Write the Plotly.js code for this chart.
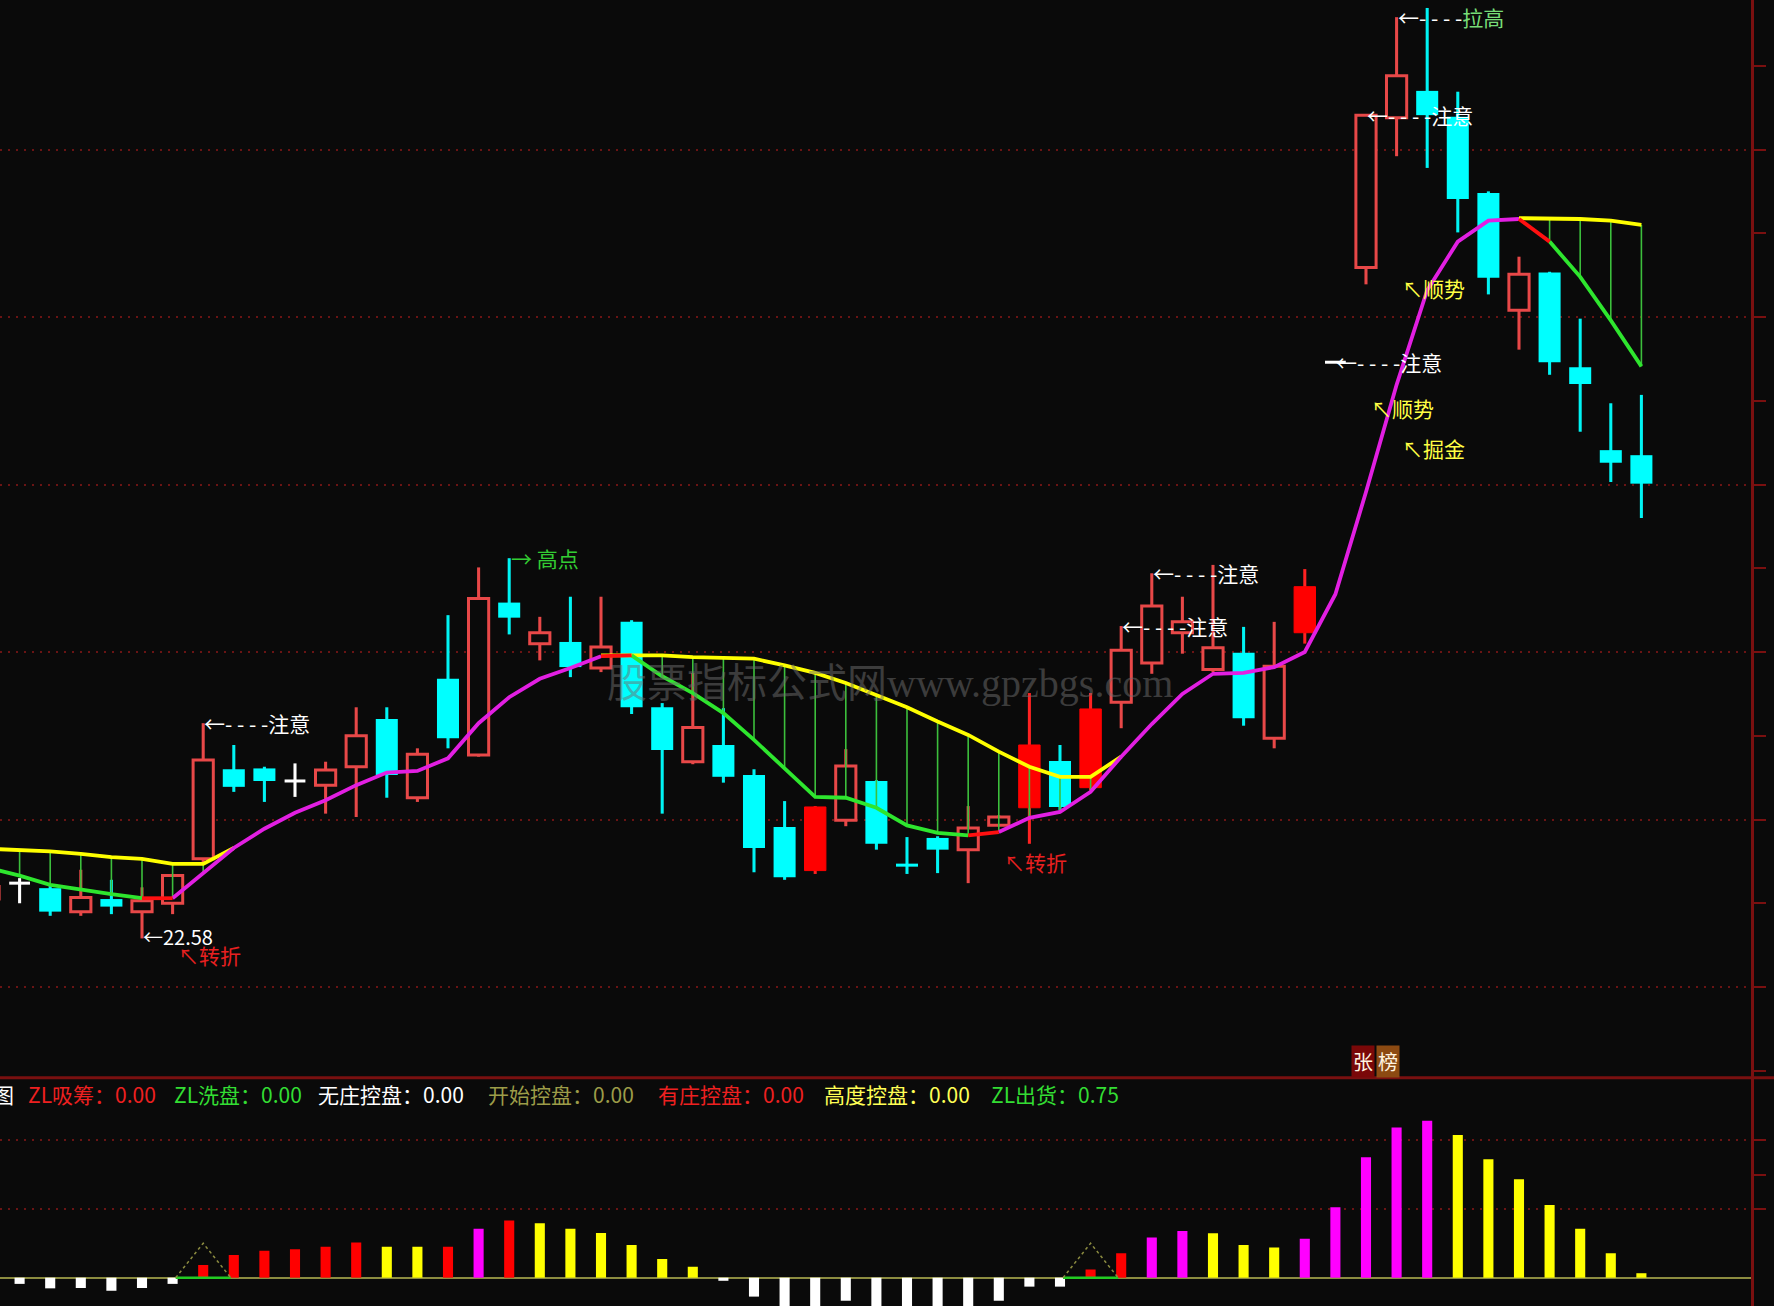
<!DOCTYPE html>
<html>
<head>
<meta charset="utf-8">
<script src="https://cdn.plot.ly/plotly-3.0.1.min.js"></script>
<style>
html,body{margin:0;padding:0;background:#0a0a0a;overflow:hidden;}
#chart{width:1774px;height:1306px;}
</style>
</head>
<body>
<div id="chart"></div>
<script>
// ---------------- DATA ----------------
const days = [-1,0,1,2,3,4,5,6,7,8,9,10,11,12,13,14,15,16,17,18,19,20,21,22,23,24,25,26,27,28,29,30,31,32,33,34,35,36,37,38,39,40,41,42,43,44,45,46,47,48,49,50,51,52,53];

const open = [23.05, 23.24,23.18,22.90,23.05,22.90,23.00,23.53,24.60,24.61,24.46, 24.41,24.63,25.20,24.26,25.68,24.77,26.59,26.10,26.12,25.81, 26.36,25.34,24.69,24.89,24.53,23.91,23.39,23.99,24.46,23.47, 23.78,23.64,23.93,24.14,24.70,24.38,25.40,25.87,26.23,25.79, 25.99,24.97,26.23,29.46,30.59,32.38,32.70,32.39,31.48,30.08, 30.53,29.40,28.41,28.35];
const high = [23.30, 23.30,23.21,23.40,23.28,23.19,23.35,25.15,24.89,24.63,24.67, 24.69,25.34,25.34,24.85,26.44,27.01,27.12,26.42,26.66,26.66, 26.38,25.39,25.75,25.33,24.60,24.22,24.16,24.84,24.47,23.79, 23.80,24.16,24.05,25.51,24.89,25.51,26.31,26.94,26.66,27.04, 26.30,26.36,26.99,29.46,32.41,33.58,33.69,32.69,31.50,30.72, 30.54,29.98,28.97,29.07];
const low = [22.95, 23.00,22.85,22.85,22.87,22.58,22.87,23.49,24.33,24.21,24.27, 24.07,24.03,24.26,24.21,24.85,24.75,26.21,25.90,25.70,25.76, 25.26,24.07,24.66,24.44,23.37,23.28,23.35,23.92,23.64,23.35, 23.36,23.24,23.92,23.71,24.11,24.35,25.09,25.74,25.98,25.76, 25.12,24.85,26.10,29.46,30.39,31.92,31.78,31.01,30.27,29.61, 29.31,28.63,28.03,27.60];
const close = [23.20, 23.24,22.90,23.07,22.96,23.03,23.33,24.71,24.39,24.46,24.46, 24.59,25.00,24.53,24.78,24.97,26.64,26.41,26.23,25.82,26.06, 25.34,24.83,25.10,24.51,23.66,23.31,24.15,24.64,23.71,23.44, 23.64,23.90,24.03,24.89,24.15,25.32,26.02,26.55,26.36,26.05, 25.21,25.83,26.78,29.46,32.41,32.88,32.41,31.41,30.47,30.51, 29.46,29.20,28.26,28.01];
const solidUpDays = [26, 33, 35, 42];

const upperBand = [23.65, 23.64,23.62,23.59,23.55,23.53,23.47,23.47,23.66,null,null, null,null,null,null,null,null,null,null,null,25.96, 25.96,25.96,25.94,25.93,25.92,25.84,25.75,25.63,25.49,25.34, 25.17,25.01,24.81,24.63,24.51,24.51,24.75,null,null,null, null,null,null,null,null,null,null,null,null,31.18, 31.18,31.17,31.15,31.10];
const supportLine = [23.42, 23.33,23.22,23.16,23.11,23.06,23.06,23.36,23.66,23.89,24.08, 24.23,24.41,24.56,24.58,24.73,25.15,25.46,25.68,25.81,25.95, 25.96,25.71,25.51,25.27,24.95,24.61,24.27,24.26,24.14,23.93, 23.84,23.81,23.85,24.02,24.09,24.33,24.75,25.14,25.50,25.74, 25.75,25.82,26.00,26.69,27.91,29.19,30.32,30.90,31.15,31.17, 30.90,30.48,29.96,29.41];
const trendState = ['D', 'D','D','D','D','D','U','U','U','U','U', 'U','U','U','U','U','U','U','U','U','U', 'D','D','D','D','D','D','D','D','D','D', 'D','D','U','U','U','U','U','U','U','U', 'U','U','U','U','U','U','U','U','U','U', 'D','D','D','D'];

const zlValue = [null, -1.8,-3.1,-3.0,-3.8,-3.0,-1.8,3.7,6.6,7.8,8.3, 9.0,10.2,9.0,9.0,9.0,14.2,16.6,15.8,14.2,13.0, 9.5,5.4,3.2,-0.9,-5.5,-9.0,-10.0,-6.7,-9.5,-10.0, -9.0,-9.0,-6.7,-2.6,-2.6,2.4,7.1,11.7,13.6,12.9, 9.5,8.8,11.3,20.5,35.0,43.7,45.6,41.5,34.4,28.6, 21.1,14.2,7.1,1.3];
const zlState = [null, 'w','w','w','w','w','w','r','r','r','r', 'r','r','y','y','r','m','r','y','y','y', 'y','y','y','w','w','w','w','w','w','w', 'w','w','w','w','w','r','r','m','m','y', 'y','y','m','m','m','m','m','y','y','y', 'y','y','y','y'];
const signalDays = [6, 35];
const signalHeight = 10;

const noteDays = [6, 36, 37, 43, 44];
const turnDays = [5, 32];
const turnPrices = [22.38, 23.49];
const trendLabelText = ['↖顺势', '↖顺势', '↖掘金'];
const trendLabelDays = [45, 44, 45];
const trendLabelPrices = [30.35, 28.91, 28.44];
const peakDay = 16;
const topDay = 45;
const markDay = 44;

const statNames = ['ZL吸筹', 'ZL洗盘', '无庄控盘', '开始控盘', '有庄控盘', '高度控盘', 'ZL出货'];
const statValues = [0.00, 0.00, 0.00, 0.00, 0.00, 0.00, 0.75];

// ---------------- STYLE ----------------
const BG = '#0a0a0a';
const GRID = '#6a1414';
const AXIS = '#7a1010';
const CJK = 'Noto Sans CJK SC';
const STY = {
  hollow: {wick:'#e84848', fill:BG, line:'#e84848', lw:3, w:0.66},
  solid:  {wick:'#ff2222', fill:'#ff0000', line:'#ff0000', lw:1, w:0.70},
  down:   {wick:'#00f4f4', fill:'#00ffff', line:'#00ffff', lw:0, w:0.72},
  flat:   {wick:'#ffffff', fill:'#ffffff', line:'#ffffff', lw:0, w:0.68}
};
const MINBODY = 0.036;

function kind(k){
  if (close[k] > open[k]) return solidUpDays.includes(days[k]) ? 'solid' : 'hollow';
  if (close[k] < open[k]) return 'down';
  return 'flat';
}

const traces = [];
const kinds = ['hollow','solid','down','flat'];
// wicks
kinds.forEach(kd => {
  const X=[],B=[],H=[];
  days.forEach((d,k)=>{
    if (kind(k)!==kd) return;
    if (high[k]-low[k] <= 0) return;
    X.push(d); B.push(low[k]); H.push(high[k]-low[k]);
  });
  traces.push({type:'bar', x:X, y:H, base:B, width:0.1, marker:{color:STY[kd].wick, line:{width:0}}, hoverinfo:'skip', xaxis:'x', yaxis:'y'});
});
// bodies
kinds.forEach(kd => {
  const X=[],B=[],H=[];
  days.forEach((d,k)=>{
    if (kind(k)!==kd) return;
    const lo = Math.min(open[k],close[k]);
    const h = Math.abs(close[k]-open[k]);
    X.push(d);
    if (h < MINBODY){ B.push(lo - (MINBODY-h)/2); H.push(MINBODY); }
    else { B.push(lo); H.push(h); }
  });
  const s = STY[kd];
  traces.push({type:'bar', x:X, y:H, base:B, width:s.w, marker:{color:s.fill, line:{color:s.line, width:s.lw}}, hoverinfo:'skip', xaxis:'x', yaxis:'y'});
});

// band verticals
(function(){
  const X=[],Y=[];
  days.forEach((d,k)=>{
    if (upperBand[k]!=null && supportLine[k]!=null){ X.push(d,d,null); Y.push(upperBand[k], supportLine[k], null); }
  });
  traces.push({type:'scatter', mode:'lines', x:X, y:Y, line:{color:'#3cbf3c', width:1.6}, hoverinfo:'skip', xaxis:'x', yaxis:'y'});
})();
// upper band
traces.push({type:'scatter', mode:'lines', x:days, y:upperBand, connectgaps:false, line:{color:'#ffff00', width:3.8}, hoverinfo:'skip', xaxis:'x', yaxis:'y'});

// support line segments
function segColor(k){
  const a = trendState[k], b = trendState[k+1];
  if (a !== b) return 'red';
  return a === 'U' ? 'magenta' : 'green';
}
function buildSeg(color){
  const X=[],Y=[]; let on=false;
  for (let k=0;k<days.length-1;k++){
    if (supportLine[k]==null || supportLine[k+1]==null){ on=false; continue; }
    if (segColor(k)===color){
      if (!on){ if (X.length){X.push(null);Y.push(null);} X.push(days[k]); Y.push(supportLine[k]); on=true; }
      X.push(days[k+1]); Y.push(supportLine[k+1]);
    } else on=false;
  }
  return {X,Y};
}
const segCols = {green:'#2ee62e', magenta:'#e21fe2', red:'#ff1010'};
['green','magenta','red'].forEach(c=>{
  const s = buildSeg(c);
  traces.push({type:'scatter', mode:'lines', x:s.X, y:s.Y, line:{color:segCols[c], width:3.8}, hoverinfo:'skip', xaxis:'x', yaxis:'y'});
});

// lower panel bars
const zlColors = {w:'#ffffff', r:'#ff0000', y:'#ffff00', m:'#ff00ff'};
traces.push({type:'bar', x:days, y:zlValue, width:0.33, marker:{color:zlState.map(s=>s?zlColors[s]:BG), line:{width:0}}, hoverinfo:'skip', xaxis:'x', yaxis:'y2'});
// signal triangles
(function(){
  const X=[],Y=[],GX=[],GY=[];
  signalDays.forEach(d=>{
    X.push(d-0.9, d, d+0.9, null); Y.push(0, signalHeight, 0, null);
    GX.push(d-0.9, d+0.9, null); GY.push(0, 0, null);
  });
  traces.push({type:'scatter', mode:'lines', x:GX, y:GY, line:{color:'#22cc22', width:2.5}, hoverinfo:'skip', xaxis:'x', yaxis:'y2'});
  traces.push({type:'scatter', mode:'lines', x:X, y:Y, line:{color:'#8c8c40', width:1.5, dash:'dot'}, hoverinfo:'skip', xaxis:'x', yaxis:'y2'});
})();

// ---------------- ANNOTATIONS ----------------
const ann = [];
const F = (size,color)=>({family:CJK, size:size, color:color});
noteDays.forEach(d=>{
  const k = days.indexOf(d);
  ann.push({x:d, y:high[k], xref:'x', yref:'y', text:'←- - - -注意', showarrow:false, xanchor:'left', yanchor:'middle', font:F(21,'#ffffff'), borderpad:0});
});
(function(){
  const k = days.indexOf(peakDay);
  ann.push({x:peakDay, y:high[k], xref:'x', yref:'y', text:'→ 高点', showarrow:false, xanchor:'left', yanchor:'middle', xshift:1, font:F(21,'#33cc33'), borderpad:0});
  // lowest low label
  let mk = 0; low.forEach((v,i)=>{ if (v < low[mk]) mk = i; });
  ann.push({x:days[mk], y:low[mk], xref:'x', yref:'y', text:'←' + low[mk].toFixed(2), showarrow:false, xanchor:'left', yanchor:'middle', yshift:2, font:F(20,'#ffffff'), borderpad:0});
  const t = days.indexOf(topDay);
  ann.push({x:topDay, y:high[t], xref:'x', yref:'y', text:'←- - - -<span style="color:#77dd77">拉高</span>', showarrow:false, xanchor:'left', yanchor:'middle', font:F(21,'#ffffff'), borderpad:0});
})();
turnDays.forEach((d,i)=>{
  ann.push({x:d, y:turnPrices[i], xref:'x', yref:'y', text:'↖转折', showarrow:false, xanchor:'left', yanchor:'middle', xshift:4, font:F(21,'#e82020'), borderpad:0});
});
trendLabelText.forEach((t,i)=>{
  ann.push({x:trendLabelDays[i], y:trendLabelPrices[i], xref:'x', yref:'y', text:t, showarrow:false, xanchor:'left', yanchor:'middle', xshift:4, font:F(21,'#ffff44'), borderpad:0});
});
// watermark
ann.push({x:0.508, y:0.477, xref:'paper', yref:'paper', text:'股票指标公式网www.gpzbgs.com', showarrow:false, xanchor:'center', yanchor:'middle', font:{family:'Liberation Serif, '+CJK, size:40, color:'rgba(110,110,110,0.5)'}});
// mark tag
ann.push({x:markDay, y:0.1872, xref:'x', yref:'paper', text:'张', showarrow:false, xanchor:'center', yanchor:'middle', xshift:-3, bgcolor:'#7a0808', borderpad:1, font:F(20,'#fff4e0')});
ann.push({x:markDay, y:0.1872, xref:'x', yref:'paper', text:'榜', showarrow:false, xanchor:'center', yanchor:'middle', xshift:22, bgcolor:'#8c4a12', borderpad:1, font:F(20,'#fff4e0')});
// lower panel stats row
const PW = 1751;
const statX = [26.8, 173, 317, 486.8, 656.6, 823, 990];
const statColors = ['#ee2020','#33dd33','#ffffff','#9c9c48','#ee2020','#ffff55','#33dd33'];
ann.push({x:14.5/PW, y:0.1623, xref:'paper', yref:'paper', text:'图', showarrow:false, xanchor:'right', yanchor:'middle', font:F(21,'#ffffff'), borderpad:0});
statNames.forEach((n,i)=>{
  ann.push({x:statX[i]/PW, y:0.1623, xref:'paper', yref:'paper', text:n + '：' + statValues[i].toFixed(2), showarrow:false, xanchor:'left', yanchor:'middle', font:F(21,statColors[i]), borderpad:0});
});

// ---------------- LAYOUT ----------------
const SPLIT = 0.1748;
const layout = {
  width:1774, height:1306,
  margin:{l:0, r:23, t:0, b:0, pad:0},
  paper_bgcolor:BG, plot_bgcolor:BG,
  showlegend:false, barmode:'overlay',
  font:{family:CJK, color:'#ffffff'},
  xaxis:{range:[-0.6405, 56.582], anchor:'y', showgrid:false, zeroline:false, showticklabels:false, ticks:'', showline:false, fixedrange:true},
  yaxis:{domain:[SPLIT,1], range:[20.917, 33.785], side:'right', anchor:'x',
    tick0:0, dtick:2, ticks:'outside', ticklen:12, tickwidth:2, tickcolor:AXIS, showticklabels:false,
    showgrid:true, gridcolor:GRID, griddash:'2px,6px', gridwidth:2,
    showline:true, linecolor:AXIS, linewidth:3, zeroline:false,
    minor:{dtick:1, tick0:0, ticks:'outside', ticklen:12, tickwidth:2, tickcolor:AXIS, showgrid:false}},
  yaxis2:{domain:[0,SPLIT], range:[-8.23, 58.14], side:'right', anchor:'x',
    tickmode:'array', tickvals:[20,40], ticks:'outside', ticklen:12, tickwidth:2, tickcolor:AXIS, showticklabels:false,
    showgrid:true, gridcolor:GRID, griddash:'2px,6px', gridwidth:2,
    showline:true, linecolor:AXIS, linewidth:3,
    zeroline:true, zerolinecolor:'#8c8c40', zerolinewidth:2,
    minor:{tickmode:'array', tickvals:[30], ticks:'outside', ticklen:12, tickwidth:2, tickcolor:AXIS, showgrid:false}},
  shapes:[{type:'line', xref:'paper', yref:'paper', x0:0, x1:1.0132, y0:SPLIT, y1:SPLIT, line:{color:AXIS, width:3}}],
  annotations:ann
};

Plotly.newPlot('chart', traces, layout, {staticPlot:true});
</script>
</body>
</html>
